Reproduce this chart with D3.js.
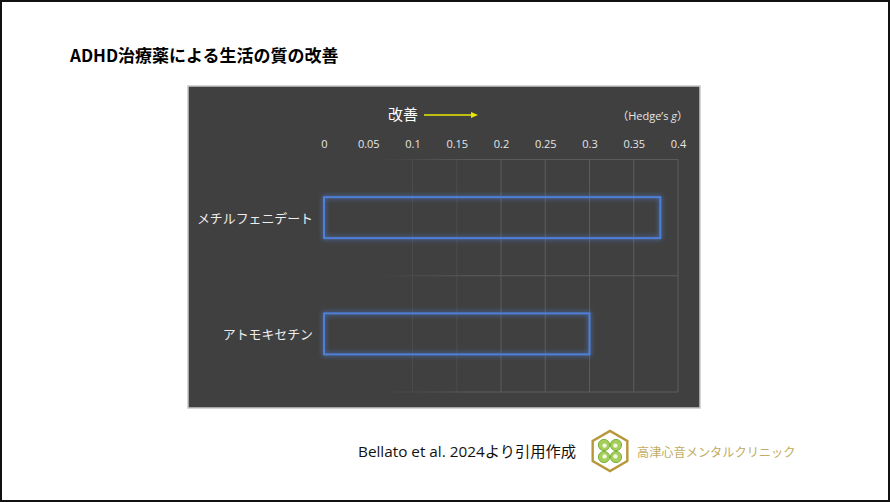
<!DOCTYPE html>
<html><head><meta charset="utf-8">
<script src="https://cdn.jsdelivr.net/npm/d3@7"></script>
<style>body{margin:0;background:#fff}svg{display:block}</style>
</head><body>
<script>
const categories = ["メチルフェニデート", "アトモキセチン"];
const values = [0.38, 0.30];
const tickValues = [0, 0.05, 0.1, 0.15, 0.2, 0.25, 0.3, 0.35, 0.4];
const tickLabels = ["0", "0.05", "0.1", "0.15", "0.2", "0.25", "0.3", "0.35", "0.4"];

const W = 890, H = 502;
const JP = "'Noto Sans CJK JP','Noto Sans',sans-serif";
const MIX = "'Open Sans','Noto Sans CJK JP',sans-serif";
const svg = d3.select("body").append("svg").attr("width", W).attr("height", H);
const defs = svg.append("defs");
const glow = defs.append("filter").attr("id","glow").attr("x","-10%").attr("y","-30%").attr("width","120%").attr("height","160%");
glow.append("feGaussianBlur").attr("in","SourceGraphic").attr("stdDeviation",2.6).attr("result","b");
const m = glow.append("feMerge");
m.append("feMergeNode").attr("in","b");
m.append("feMergeNode").attr("in","SourceGraphic");

const gradV = defs.append("linearGradient").attr("id","fadeX").attr("gradientUnits","userSpaceOnUse")
  .attr("x1",380).attr("x2",470).attr("y1",0).attr("y2",0);
gradV.append("stop").attr("offset",0).attr("stop-color","#5c5c5c").attr("stop-opacity",0);
gradV.append("stop").attr("offset",1).attr("stop-color","#5c5c5c").attr("stop-opacity",1);

// outer frame
svg.append("rect").attr("x",1).attr("y",1).attr("width",W-2).attr("height",H-2)
  .attr("fill","#fff").attr("stroke","#111").attr("stroke-width",2);

// title
svg.append("text").attr("x",70).attr("y",62).attr("font-family",JP).attr("font-weight","bold")
  .attr("font-size",17).attr("fill","#000").text("ADHD治療薬による生活の質の改善");

// panel
svg.append("rect").attr("x",188).attr("y",86).attr("width",512).attr("height",322)
  .attr("fill","#404040").attr("stroke","#c8c8c8").attr("stroke-width",1.5);

const x = d3.scaleLinear().domain([0,0.4]).range([324,678]);
const y = d3.scaleBand().domain(categories).range([159.5,392]).padding(0);

// gridlines
const grid = svg.append("g");
grid.selectAll("rect.v").data(tickValues.filter(d=>d>0)).join("rect")
  .attr("x",d=>x(d)-0.5).attr("width",1).attr("y",159.5).attr("height",392-159.5)
  .attr("fill", d=>x(d) < 470 ? (x(d) < 400 ? "none" : "#4b4b4b") : "#5c5c5c");
const hY = [159.5, y.range()[0] + y.step(), 392];
grid.selectAll("line.h").data(hY).join("line")
  .attr("x1",324).attr("x2",678).attr("y1",d=>d).attr("y2",d=>d)
  .attr("stroke","url(#fadeX)").attr("stroke-width",1);

// axis ticks (top)
const axis = d3.axisTop(x).tickValues(tickValues).tickFormat((d,i)=>tickLabels[i]).tickSize(0).tickPadding(0);
const ag = svg.append("g").attr("transform","translate(0,148)").call(axis);
ag.select(".domain").remove();
ag.selectAll("text").attr("font-family","'Open Sans','DejaVu Sans',sans-serif").attr("font-size",11).attr("fill","#e6e6e6");

// category labels
svg.append("g").selectAll("text").data(categories).join("text")
  .attr("x",313).attr("y",d=>y(d)+y.bandwidth()/2+5).attr("text-anchor","end")
  .attr("font-family",JP).attr("font-size",12.9).attr("fill","#eeeeee").text(d=>d);

// bars
const bh = 41;
svg.append("g").selectAll("rect").data(categories).join("rect")
  .attr("x",x(0)).attr("y",d=>y(d)+y.bandwidth()/2-bh/2)
  .attr("width",(d,i)=>x(values[i])-x(0)).attr("height",bh)
  .attr("fill","none").attr("stroke","#4f7fd6").attr("stroke-width",2).attr("filter","url(#glow)");

// improvement label & arrow
svg.append("text").attr("x",388).attr("y",120).attr("font-family",JP).attr("font-size",15).attr("fill","#ffffff").text("改善");
svg.append("line").attr("x1",424).attr("x2",472).attr("y1",115).attr("y2",115).attr("stroke","#e8e800").attr("stroke-width",1.3);
svg.append("path").attr("d","M471,112 L478,115 L471,118 Z").attr("fill","#e8e800");

// Hedge's g
const hg = svg.append("text").attr("x",688).attr("y",120).attr("text-anchor","end")
  .attr("font-family",MIX).attr("font-size",11).attr("fill","#e6e6e6");
hg.append("tspan").text("（Hedge’s ");
hg.append("tspan").attr("font-style","italic").text("g");
hg.append("tspan").text("）");

// footer
svg.append("text").attr("x",358).attr("y",457).attr("font-family",MIX).attr("font-size",15.3).attr("fill","#111").text("Bellato et al. 2024より引用作成");

// logo
const lg = svg.append("g").attr("transform","translate(610,451)");
const hex = d3.range(6).map(i=>{const a=Math.PI/3*i+Math.PI/6; return [20*Math.cos(a),20*Math.sin(a)];});
lg.append("polygon").attr("points",hex.map(p=>p.join(",")).join(" ")).attr("fill","#fff").attr("stroke","#b8973a").attr("stroke-width",2.4);
[[-6,-6],[6,-6],[-6,6],[6,6]].forEach(([dx,dy])=>{
  lg.append("circle").attr("cx",dx).attr("cy",dy).attr("r",5.6).attr("fill","#a6cf5a").attr("stroke","#7ab23a").attr("stroke-width",1);
  lg.append("circle").attr("cx",dx*0.9).attr("cy",dy*0.9).attr("r",2.2).attr("fill","#f2f7e6");
});
svg.append("text").attr("x",637).attr("y",457).attr("font-family",JP).attr("font-size",12.2).attr("fill","#c2ab62").text("高津心音メンタルクリニック");
</script>
</body></html>
